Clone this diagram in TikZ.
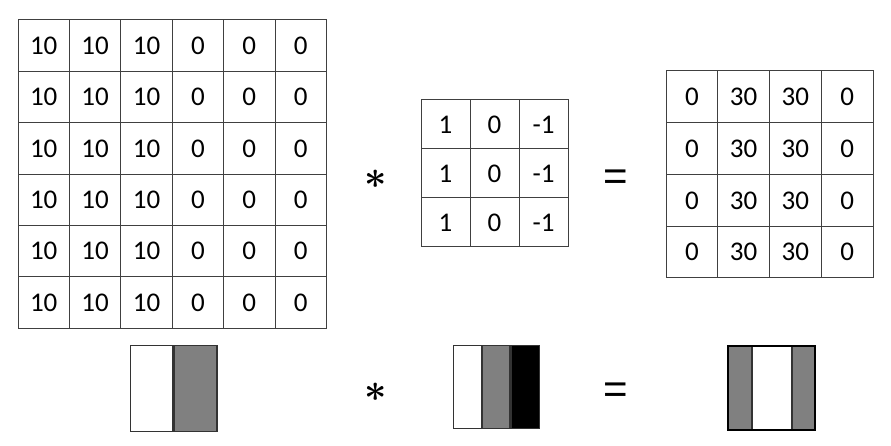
\documentclass[tikz,border=0pt]{standalone}
\usepackage{fontspec}
\setmainfont{Carlito}
\newfontfamily\opfont{Liberation Sans}
\usepackage{graphicx}
\usepackage{tikz}
\usetikzlibrary{positioning}

\begin{document}
\begin{tikzpicture}[
    x=1pt, y=-1pt,
    node distance=0pt,
    cell/.style={draw=black!75, line width=1pt, inner sep=0pt, minimum width=#1, minimum height=#1, font=\fontsize{27}{30}\selectfont},
    bar/.style={draw=black!80, line width=1.3pt, inner sep=0pt, minimum height=#1},
    op/.style={inner sep=0pt, font=\boldmath},
    eqsign/.style={inner sep=0pt, font=\opfont\fontsize{42}{42}\selectfont}
]
\useasboundingbox (0,0) rectangle (891,446);

\foreach \c/\v in {1/10,2/10,3/10,4/0,5/0,6/0}
  \foreach \r in {1,...,6}
    \node[cell=51.4pt] (img-\r-\c) at ({18+51.4*(\c-0.5)}, {20+51.4*(\r-0.5)}) {\v};

\foreach \c/\v in {1/1,2/0,3/-1}
  \foreach \r in {1,...,3}
    \node[cell=49pt] (ker-\r-\c) at ({421+49*(\c-0.5)}, {100+49*(\r-0.5)}) {\v};

\foreach \c/\v in {1/0,2/30,3/30,4/0}
  \foreach \r in {1,...,4}
    \node[cell=51.75pt] (out-\r-\c) at ({666+51.75*(\c-0.5)}, {71+51.75*(\r-0.5)}) {\v};

\node[op] (star) at (376,179) {\scalebox{3.9}{$\ast$}};
\node[eqsign] (equal) at (616,180) {=};

\node[bar=85.7pt, fill=white, minimum width=42.3pt, anchor=north west] (img-light) at (130,345) {};
\node[bar=85.7pt, fill=black!50, minimum width=42.7pt, right=of img-light] (img-dark) {};

\node[bar=82.7pt, fill=white, minimum width=28pt, anchor=north west] (ker-light) at (452.7,345) {};
\node[bar=82.7pt, fill=black!50, minimum width=27pt, right=of ker-light] (ker-mid) {};
\node[bar=82.7pt, fill=black, minimum width=28.3pt, right=of ker-mid] (ker-dark) {};

\node[bar=83pt, fill=black!50, minimum width=23pt, anchor=north west] (out-left) at (727.7,346) {};
\node[bar=83pt, fill=white, minimum width=38.6pt, right=of out-left] (out-mid) {};
\node[bar=83pt, fill=black!50, minimum width=21.7pt, right=of out-mid] (out-right) {};
\draw[line width=2pt] (out-left.north west) rectangle (out-right.south east);

\node[op] (star-bar) at (376,392) {\scalebox{3.9}{$\ast$}};
\node[eqsign] (equal-bar) at (616,393) {=};
\end{tikzpicture}
\end{document}
